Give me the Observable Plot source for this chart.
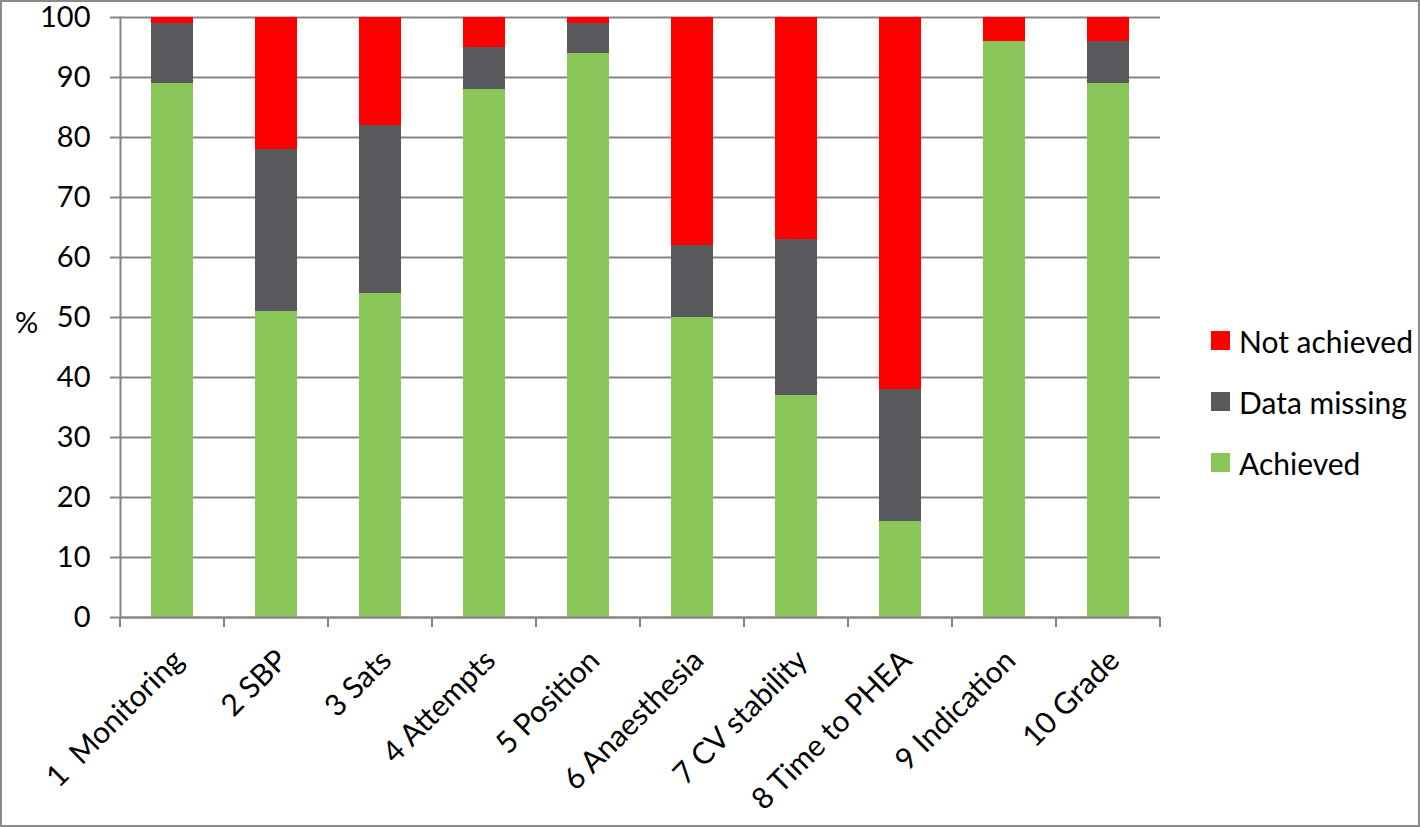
<!DOCTYPE html>
<html>
<head>
<meta charset="utf-8">
<script src="https://cdn.jsdelivr.net/npm/d3@7"></script>
<script src="https://cdn.jsdelivr.net/npm/@observablehq/plot@0.6"></script>
<style>
  html, body { margin: 0; padding: 0; background: #fff; }
  #wrap { position: relative; width: 1420px; height: 827px; font-family: Lato, "Open Sans", sans-serif; }
  #chart { position: absolute; left: 0; top: 0; }
  #border { position: absolute; left: 0; top: 0; width: 1420px; height: 827px; box-sizing: border-box; border: 2px solid #8a8a8a; pointer-events: none; }
  #legend { position: absolute; left: 1211px; top: 310px; font-size: 30px; color: #000; }
  .item { display: flex; align-items: center; height: 61px; }
  .sw { width: 19px; height: 19px; margin-right: 9px; }
</style>
</head>
<body>
<div id="wrap"><div id="chart"></div><div id="legend"></div><div id="border"></div></div>
<script>
const categories = ["1  Monitoring", "2 SBP", "3 Sats", "4 Attempts", "5 Position", "6 Anaesthesia", "7 CV stability", "8 Time to PHEA", "9 Indication", "10 Grade"];
const achieved    = [89, 51, 54, 88, 94, 50, 37, 16, 96, 89];
const dataMissing = [10, 27, 28,  7,  5, 12, 26, 22,  0,  7];
const notAchieved = [ 1, 22, 18,  5,  1, 38, 37, 62,  4,  4];
const seriesNames = ["Achieved", "Data missing", "Not achieved"];
const seriesColors = ["#8bc65a", "#59595e", "#ff0000"];
const yTicks = [0, 10, 20, 30, 40, 50, 60, 70, 80, 90, 100];

const seriesValues = [achieved, dataMissing, notAchieved];
const rows = [];
seriesNames.forEach((s, si) => categories.forEach((c, i) => rows.push({category: c, series: s, value: seriesValues[si][i]})));

const grid = "#868686";

const boundaryTicks = (index, scales, values, dims) => {
  const x = scales.x;
  const bw = typeof x.bandwidth === "function" ? x.bandwidth() : x.bandwidth;
  const step = x(categories[1]) - x(categories[0]);
  const gap = (step - bw) / 2;
  const pos = categories.map(c => x(c) - gap);
  pos.push(x(categories[categories.length - 1]) + bw + gap);
  const y0 = dims.height - dims.marginBottom;
  const g = d3.create("svg:g");
  g.selectAll("line").data(pos).join("line")
    .attr("x1", d => d).attr("x2", d => d)
    .attr("y1", y0).attr("y2", y0 + 10)
    .attr("stroke", grid).attr("stroke-width", 2);
  return g.node();
};

const chart = Plot.plot({
  width: 1420,
  height: 827,
  marginLeft: 120,
  marginRight: 260,
  marginTop: 17,
  marginBottom: 210,
  style: {fontFamily: "Lato, 'Open Sans', sans-serif", background: "transparent", overflow: "visible"},
  x: {domain: categories, paddingInner: 0.6, paddingOuter: 0.3, axis: null},
  y: {domain: [0, 100], axis: null},
  color: {domain: seriesNames, range: seriesColors},
  marks: [
    Plot.gridY(yTicks, {stroke: grid, strokeOpacity: 1, strokeWidth: 2}),
    Plot.barY(rows, {x: "category", y: "value", fill: "series", order: seriesNames}),
    Plot.ruleY([0], {stroke: grid, strokeWidth: 2}),
    Plot.frame({anchor: "left", stroke: grid, strokeWidth: 2}),
    Plot.axisY({ticks: yTicks, tickSize: 10, tickPadding: 20, stroke: grid, strokeWidth: 2, fill: "#000", fontSize: 29, label: null}),
    Plot.axisX({tickSize: 0, tickRotate: -45, tickPadding: 38, dx: 6, fontSize: 30, fill: "#000", label: null}),
    boundaryTicks,
    Plot.text(["%"], {frameAnchor: "left", dx: -94, dy: 6, fontSize: 29, fill: "#000", textAnchor: "middle"})
  ]
});
document.getElementById("chart").appendChild(chart);

const legend = document.getElementById("legend");
for (let i = seriesNames.length - 1; i >= 0; i--) {
  const item = document.createElement("div");
  item.className = "item";
  const sw = document.createElement("div");
  sw.className = "sw";
  sw.style.background = seriesColors[i];
  const t = document.createElement("span");
  t.textContent = seriesNames[i];
  item.appendChild(sw); item.appendChild(t);
  legend.appendChild(item);
}
</script>
</body>
</html>
